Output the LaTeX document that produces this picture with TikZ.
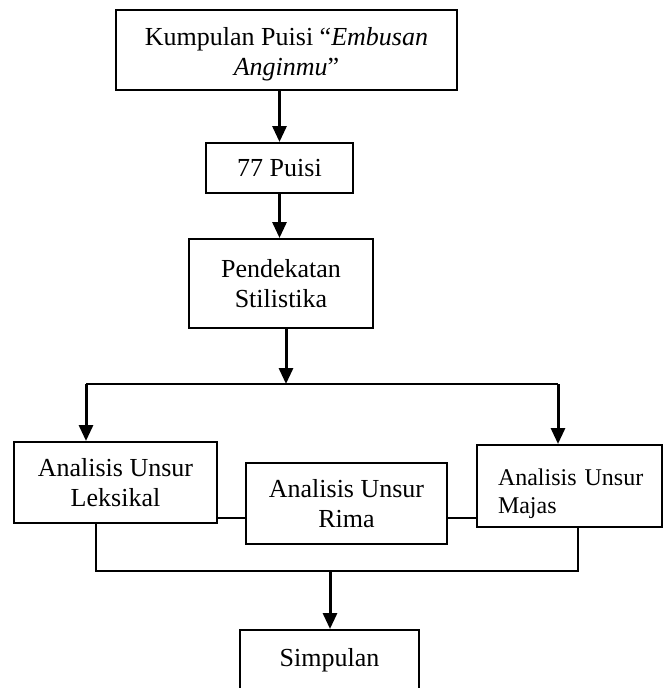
\documentclass[tikz,border=0pt]{standalone}
\usepackage{fontspec}
\setmainfont{Liberation Serif}
\usetikzlibrary{arrows.meta}
\begin{document}
\begin{tikzpicture}[x=1pt,y=-1pt,
  box/.style={draw, line width=2pt, inner sep=0pt, align=center,
    font=\fontsize{26}{30}\selectfont},
  arr/.style={line width=3pt, -{Triangle[length=16pt,width=14pt]}},
  con/.style={line width=2pt}]
\clip (0,0) rectangle (666,688);
\node[box, minimum width=341pt, minimum height=80pt, text height=56pt, text depth=6pt] (kp) at (286.5,50)
  {Kumpulan Puisi “\textit{Embusan}\\\textit{Anginmu}”};
\node[box, minimum width=147pt, minimum height=50pt] (pu) at (279.5,168) {77 Puisi};
\node[box, minimum width=184pt, minimum height=89pt] (ps) at (281,283.5) {Pendekatan\\Stilistika};
\node[box, minimum width=203pt, minimum height=81pt] (lk) at (115.5,482.5) {Analisis Unsur\\Leksikal};
\node[box, minimum width=201pt, minimum height=81pt] (ri) at (346.5,503.5) {Analisis Unsur\\Rima};
\node[box, minimum width=185pt, minimum height=82pt, align=left, text width=170pt,
  inner xsep=7.5pt, text height=20pt, text depth=22pt,
  font=\fontsize{24}{28}\selectfont] (ma) at (569.5,486)
  {\hspace*{13.5pt}Analisis Unsur\\\hspace*{13.5pt}Majas};
\node[box, anchor=north, minimum width=179pt, minimum height=84pt,
  text height=18pt, text depth=30pt] (sp) at (329.5,629) {Simpulan};
% connectors
\coordinate (jl) at (86,384);
\coordinate (jm) at (286,384);
\coordinate (jr) at (558,384);
\coordinate (cy) at (0,518);
\coordinate (bl) at (96,571);
\coordinate (bm) at (330,571);
\coordinate (br) at (578,571);
\draw[arr] (kp.south -| pu.north) -- (pu.north);
\draw[arr] (pu.south) -- (pu.south |- ps.north);
\draw[arr] (ps.south -| jm) -- (jm);
\draw[con] (jl) -- (jr);
\draw[arr] (jl) -- (jl |- lk.north);
\draw[arr] (jr) -- (jr |- ma.north);
\draw[con] (lk.east |- cy) -- (ri.west |- cy);
\draw[con] (ri.east |- cy) -- (ma.west |- cy);
\draw[con] (lk.south -| bl) -- (bl) -- (br) -- (ma.south -| br);
\draw[arr] (bm) -- (sp.north -| bm);
\end{tikzpicture}
\end{document}
